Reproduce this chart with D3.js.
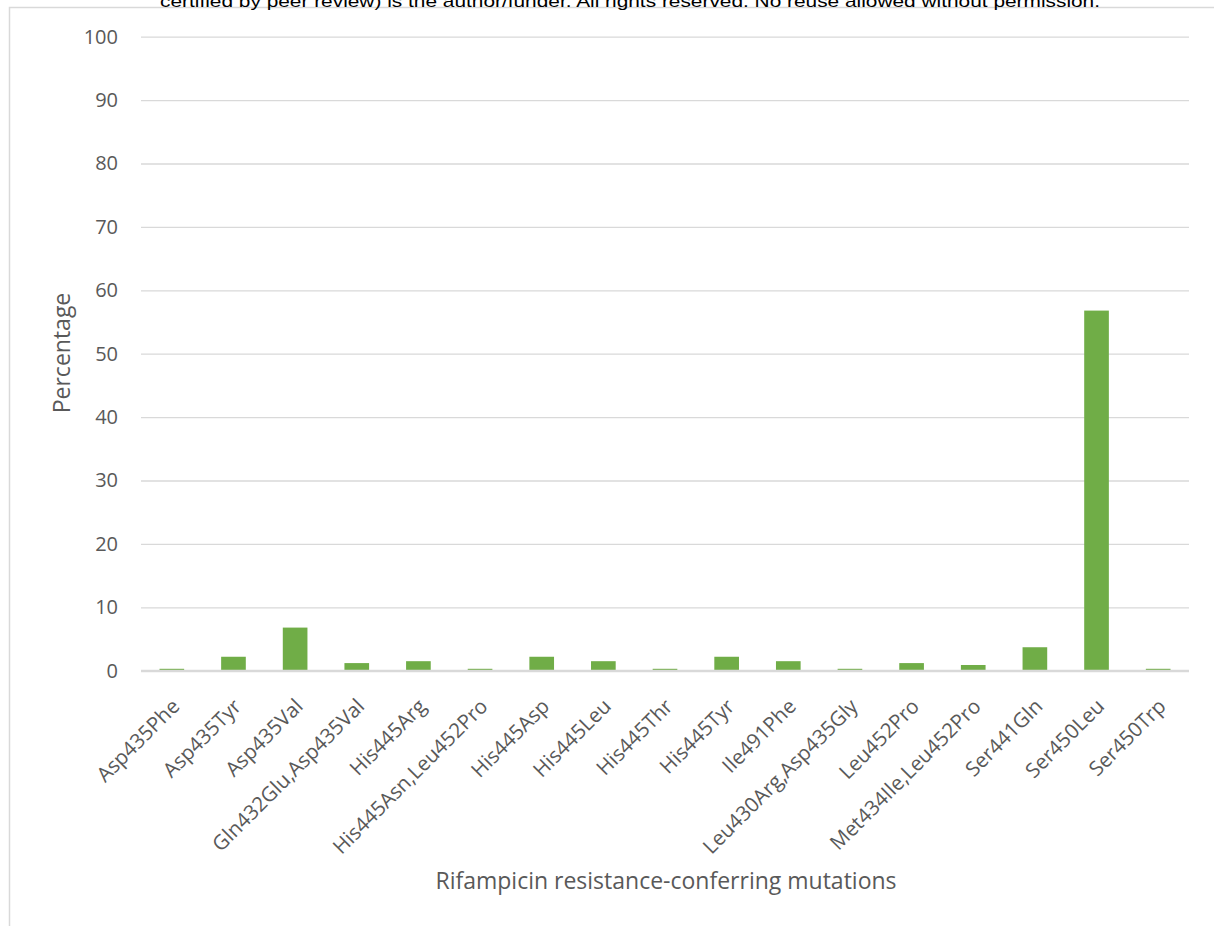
<!DOCTYPE html>
<html>
<head>
<meta charset="utf-8">
<script src="https://cdn.jsdelivr.net/npm/d3@7"></script>
<style>
  html, body { margin: 0; padding: 0; background: #fff; }
  svg { display: block; }
</style>
</head>
<body>
<svg id="chart" width="1214" height="926"></svg>
<script>
// Mutation categories along the x axis
const categories = [
  "Asp435Phe", "Asp435Tyr", "Asp435Val", "Gln432Glu,Asp435Val", "His445Arg",
  "His445Asn,Leu452Pro", "His445Asp", "His445Leu", "His445Thr", "His445Tyr",
  "Ile491Phe", "Leu430Arg,Asp435Gly", "Leu452Pro", "Met434Ile,Leu452Pro",
  "Ser441Gln", "Ser450Leu", "Ser450Trp"
];
// Percentage of isolates carrying each mutation
const percentages = [
  0.3, 2.2, 6.8, 1.2, 1.5,
  0.3, 2.2, 1.5, 0.3, 2.2,
  1.5, 0.3, 1.2, 0.9,
  3.7, 56.8, 0.3
];
const yTicks = [0, 10, 20, 30, 40, 50, 60, 70, 80, 90, 100];

const headerText = "certified by peer review) is the author/funder. All rights reserved. No reuse allowed without permission.";
const xTitle = "Rifampicin resistance-conferring mutations";
const yTitle = "Percentage";

const svg = d3.select("#chart");
const font = "'Open Sans', 'Noto Sans', sans-serif";
const plot = { left: 141, right: 1189, top: 36.7, bottom: 670.7 };

// Outer frame of the chart area
svg.append("path")
  .attr("d", `M9.5,926 V7.5 H1214`)
  .attr("fill", "none")
  .attr("stroke", "#d9d9d9")
  .attr("stroke-width", 1.5);

// Header line, partly cut off at the top edge
svg.append("text")
  .attr("x", 160)
  .attr("y", 6.5)
  .attr("textLength", 940)
  .attr("lengthAdjust", "spacingAndGlyphs")
  .attr("font-family", "'Liberation Sans', Arial, sans-serif")
  .attr("font-size", 17)
  .attr("fill", "#000")
  .text(headerText);

const x = d3.scaleBand()
  .domain(categories)
  .range([plot.left, plot.right])
  .paddingInner(0.6)
  .paddingOuter(0.3);

const y = d3.scaleLinear()
  .domain([0, 100])
  .range([plot.bottom, plot.top]);

// Horizontal gridlines and y tick labels
const yAxis = d3.axisLeft(y)
  .tickValues(yTicks)
  .tickSize(-(plot.right - plot.left))
  .tickPadding(23);

const gy = svg.append("g")
  .attr("transform", `translate(${plot.left},0)`)
  .call(yAxis);
gy.select(".domain").remove();
gy.selectAll(".tick line")
  .attr("stroke", "#d9d9d9")
  .attr("stroke-width", d => d === 0 ? 2 : 1.3);
gy.selectAll(".tick text")
  .attr("font-family", font)
  .attr("font-size", 20)
  .attr("fill", "#595959");

// Bars
svg.append("g")
  .selectAll("rect")
  .data(categories)
  .join("rect")
  .attr("x", d => x(d))
  .attr("width", x.bandwidth())
  .attr("y", (d, i) => y(percentages[i]))
  .attr("height", (d, i) => y(0) - y(percentages[i]))
  .attr("fill", "#70ad47");

// Baseline drawn over the bars' bottom edge
svg.append("line")
  .attr("x1", plot.left).attr("x2", plot.right)
  .attr("y1", y(0)).attr("y2", y(0))
  .attr("stroke", "#d9d9d9")
  .attr("stroke-width", 2);

// Rotated category labels
const xAxis = d3.axisBottom(x).tickSize(0).tickPadding(0);
const gx = svg.append("g")
  .attr("transform", `translate(0,${plot.bottom})`)
  .call(xAxis);
gx.select(".domain").remove();
gx.selectAll(".tick text")
  .attr("font-family", font)
  .attr("font-size", 20.5)
  .attr("fill", "#595959")
  .attr("text-anchor", "end")
  .attr("dy", null)
  .attr("transform", "translate(9,37) rotate(-45)");

// Axis titles
svg.append("text")
  .attr("x", 666)
  .attr("y", 889)
  .attr("text-anchor", "middle")
  .attr("font-family", font)
  .attr("font-size", 23)
  .attr("fill", "#595959")
  .text(xTitle);

svg.append("text")
  .attr("transform", "translate(70,353) rotate(-90)")
  .attr("text-anchor", "middle")
  .attr("font-family", font)
  .attr("font-size", 23)
  .attr("fill", "#595959")
  .text(yTitle);
</script>
</body>
</html>
